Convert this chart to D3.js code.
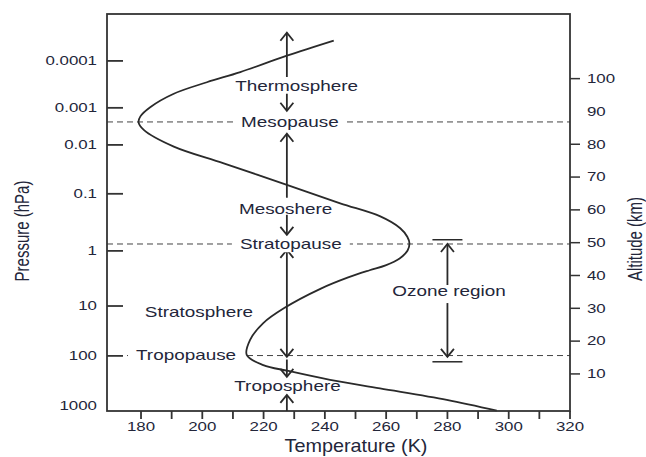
<!DOCTYPE html>
<html>
<head>
<meta charset="utf-8">
<script src="https://cdn.jsdelivr.net/npm/d3@7"></script>
<style>
  body { margin: 0; background: #fff; }
  text { font-family: "Liberation Sans", Arial, sans-serif; fill: #23263a; }
</style>
</head>
<body>
<svg id="chart" width="646" height="457"></svg>
<script>
// temperature profile (altitude km -> temperature K)
const profileAlt  = [111.6, 107.0, 102.0, 98.9, 95.4, 91.3, 88.5, 86.7, 84.4, 79.3, 74.2, 67.6, 62.0, 58.0, 54.4, 51.8, 49.8,
                     47.6, 45.2, 43.1, 41.6, 39.4, 36.0, 30.0, 25.5, 20.4, 15.8, 12.7, 10.9, 8.2, 5.6, 2.1, -1.2];
const profileTemp = [242.9, 227.6, 212.4, 201.5, 190.7, 183.0, 179.8, 179.2, 180.9, 190.7, 207.0, 227.6, 245.0, 258.1, 264.6, 266.9, 267.6,
                     267.0, 264.4, 259.8, 254.6, 247.6, 238.7, 226.6, 219.9, 215.6, 214.5, 219.9, 228.1, 241.7, 258.0, 279.8, 296.1];

// left axis: pressure labels sit at the altitude they correspond to
const pressureLabels = ["0.0001", "0.001", "0.01", "0.1", "1", "10", "100", "1000"];
const pressureAlt    = [105.4, 91.1, 79.8, 64.9, 47.5, 30.7, 15.5, 0.2];

// right axis
const altTicks = [10, 20, 30, 40, 50, 60, 70, 80, 90, 100];

// bottom axis
const tempTicks = d3.range(180, 321, 10);

// layer boundaries (dashed lines)
const boundaryNames = ["Mesopause", "Stratopause", "Tropopause"];
const boundaryAlt   = [86.8, 49.6, 15.6];

// layer names
const regionNames = ["Thermosphere", "Mesoshere", "Stratosphere", "Troposphere"];
const regionAlt   = [97.8, 60.3, 28.8, 6.4];
const regionTemp  = [230.8, 227.2, 198.9, 227.8];

// ozone layer range (km)
const ozoneRange = [13.7, 50.9];

const svg = d3.select("#chart");
const M = {left: 107, right: 570, top: 14, bottom: 411};
const SX = 1.35; // the source lettering is horizontally stretched

const x = d3.scaleLinear().domain([168.9, 320]).range([M.left, M.right]);
const y = d3.scaleLinear().domain([-1.3, 119.7]).range([M.bottom, M.top]);

const ink = "#2a2a2a";

// stretched text helper
function label(g, px, py, txt, size, anchor, sx) {
  return g.append("text")
    .attr("transform", `translate(${px},${py}) scale(${sx || SX},1)`)
    .attr("text-anchor", anchor || "middle")
    .attr("dy", "0.35em")
    .style("font-size", size + "px")
    .text(txt);
}

// dashed boundaries
const bnd = svg.append("g");
boundaryAlt.forEach(a => {
  bnd.append("line")
    .attr("x1", M.left).attr("x2", M.right)
    .attr("y1", y(a)).attr("y2", y(a))
    .attr("stroke", "#444").attr("stroke-width", 1)
    .attr("stroke-dasharray", "6,4");
});

// temperature curve
const pts = profileAlt.map((a, i) => [profileTemp[i], a]);
svg.append("path")
  .datum(pts)
  .attr("fill", "none")
  .attr("stroke", ink)
  .attr("stroke-width", 1.8)
  .attr("d", d3.line().x(d => x(d[0])).y(d => y(d[1])).curve(d3.curveCatmullRom.alpha(0.5)));

// frame
svg.append("rect")
  .attr("x", M.left).attr("y", M.top)
  .attr("width", M.right - M.left).attr("height", M.bottom - M.top)
  .attr("fill", "none").attr("stroke", "#333").attr("stroke-width", 1.8);

// bottom axis
const bx = svg.append("g");
tempTicks.forEach(t => {
  bx.append("line").attr("x1", x(t)).attr("x2", x(t))
    .attr("y1", M.bottom).attr("y2", M.bottom + 8)
    .attr("stroke", "#333").attr("stroke-width", 1.8);
  if (t % 20 === 0) label(bx, x(t), 427, t, 12.5);
});
label(bx, 356, 446, "Temperature (K)", 18, "middle", 1.1);

// left axis (pressure)
const lx = svg.append("g");
pressureLabels.forEach((p, i) => {
  const py = y(pressureAlt[i]);
  if (pressureAlt[i] > 2) {
    lx.append("line").attr("x1", M.left).attr("x2", M.left + 16)
      .attr("y1", py).attr("y2", py)
      .attr("stroke", "#333").attr("stroke-width", 1.8);
  }
  label(lx, 97, py, p, 12.5, "end");
});
lx.append("text")
  .attr("transform", `translate(22,231) scale(1.4,1) rotate(-90)`)
  .attr("text-anchor", "middle").attr("dy", "0.35em")
  .style("font-size", "15px")
  .text("Pressure (hPa)");

// right axis (altitude)
const rx = svg.append("g");
altTicks.forEach(a => {
  if (a !== 90) { // no tick mark at 90 in the source
    rx.append("line").attr("x1", M.right).attr("x2", M.right + 10)
      .attr("y1", y(a)).attr("y2", y(a))
      .attr("stroke", "#333").attr("stroke-width", 1.5);
  }
  label(rx, 587, y(a), a, 12.5, "start");
});
rx.append("text")
  .attr("transform", `translate(635,239) scale(1.4,1) rotate(-90)`)
  .attr("text-anchor", "middle").attr("dy", "0.35em")
  .style("font-size", "15px")
  .text("Altitude (km)");

// arrows
const arrowT = 227.6;
function head(g, px, py, dir) {
  // dir -1 points up, +1 points down
  g.append("path")
    .attr("d", `M${px - 6.5},${py - dir * 8}L${px},${py}L${px + 6.5},${py - dir * 8}`)
    .attr("fill", "none").attr("stroke", ink).attr("stroke-width", 1.8);
}
function arrow(g, px, a0, a1, up, down) {
  g.append("line").attr("x1", px).attr("x2", px)
    .attr("y1", y(a0)).attr("y2", y(a1))
    .attr("stroke", ink).attr("stroke-width", 1.8);
  if (up) head(g, px, y(a0), -1);
  if (down) head(g, px, y(a1), 1);
}
const ar = svg.append("g");
arrow(ar, x(arrowT), 114.0, 100.5, true, false);
arrow(ar, x(arrowT), 95.4, 90.2, false, true);
arrow(ar, x(arrowT), 83.2, 63.7, true, false);
arrow(ar, x(arrowT), 58.5, 52.4, false, true);
arrow(ar, x(arrowT), 47.8, 15.2, true, true);
arrow(ar, x(arrowT), 14.4, 9.1, false, true);
arrow(ar, x(arrowT), 3.6, -1.3, true, false);

// ozone region bracket
const oz = svg.append("g");
const ozX = x(280);
ozoneRange.forEach(a => {
  oz.append("line").attr("x1", ozX - 15).attr("x2", ozX + 15)
    .attr("y1", y(a)).attr("y2", y(a))
    .attr("stroke", ink).attr("stroke-width", 1.5);
});
arrow(oz, ozX, boundaryAlt[1], 37.1, true, false);
arrow(oz, ozX, 31.6, 15.2, false, true);
label(oz, 449, y(35.2), "Ozone region", 14);

// boundary labels with a white gap in the dashed line
const boundaryTemp = [228.6, 228.9, 194.7];
boundaryNames.forEach((n, i) => {
  const g = svg.append("g")
    .attr("transform", `translate(${x(boundaryTemp[i])},${y(boundaryAlt[i])}) scale(${SX},1)`);
  const t = g.append("text").attr("text-anchor", "middle").attr("dy", "0.35em")
    .style("font-size", "14px").text(n);
  const bb = t.node().getBBox();
  const pad = 8 / SX;
  g.insert("rect", "text")
    .attr("x", bb.x - pad).attr("y", bb.y)
    .attr("width", bb.width + 2 * pad).attr("height", bb.height)
    .attr("fill", "#fff");
});

// region labels
regionNames.forEach((n, i) => label(svg, x(regionTemp[i]), y(regionAlt[i]), n, 14));
</script>
</body>
</html>
